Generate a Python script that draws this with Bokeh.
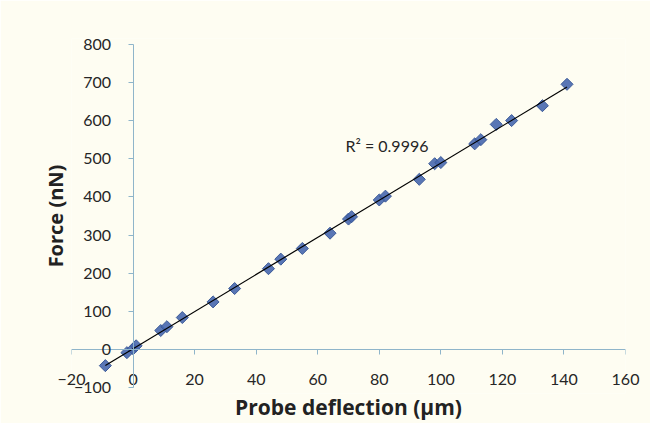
from bokeh.plotting import figure
from bokeh.models import Range1d, LinearAxis, SingleIntervalTicker, FixedTicker, Label
from bokeh.embed import file_html
from bokeh.resources import INLINE
import numpy as np
import math

# ---- data ----
deflection_um = [-9, -2, 0, 1, 9, 11, 16, 26, 33, 44, 48, 55, 64, 70, 71, 80, 82,
                 93, 98, 100, 111, 113, 118, 123, 133, 141]
force_nN = [-42, -8, 2, 10, 50, 60, 84, 125, 160, 212, 237, 265, 305, 342, 348, 392, 402,
            446, 487, 490, 539, 550, 590, 600, 639, 695]
r2_text = "R\u00b2 = 0.9996"
x_title = "Probe deflection (\u00b5m)"
y_title = "Force (nN)"

BG = "#FEFDF2"
AXIS = "#8FB5CA"
TXT = "#262626"
FONT = "Lato"
TFONT = "Open Sans"

p = figure(frame_width=554, frame_height=355, output_backend="svg", toolbar_location=None,
           x_range=Range1d(-20, 160), y_range=Range1d(-115, 815),
           min_border_left=71, min_border_right=25, min_border_top=38, min_border_bottom=28,
           background_fill_color=BG, border_fill_color=BG, outline_line_color=None)
p.grid.visible = False

# y axis crossing at x = 0
ya = p.yaxis[0]
ya.fixed_location = 0
ya.bounds = (-100, 800)
ya.ticker = SingleIntervalTicker(interval=100, num_minor_ticks=0)
ya.axis_line_color = AXIS
ya.major_tick_line_color = AXIS
ya.major_tick_out = 5
ya.major_tick_in = 0
ya.minor_tick_line_color = None
ya.major_label_standoff = 17
ya.major_label_text_font = FONT
ya.major_label_text_font_size = "16px"
ya.major_label_text_color = TXT

# y axis title at left edge
yt = LinearAxis(ticker=FixedTicker(ticks=[]))
yt.axis_line_color = None
yt.major_tick_line_color = None
yt.minor_tick_line_color = None
yt.major_tick_out = 0
yt.major_label_standoff = 0
yt.axis_label = y_title
yt.axis_label_text_font = TFONT
yt.axis_label_text_font_style = "bold"
yt.axis_label_text_font_size = "20px"
yt.axis_label_text_color = "#222222"
yt.axis_label_standoff = 3
p.add_layout(yt, "left")

# x axis line crossing at y = 0 (ticks only)
xa = p.xaxis[0]
xa.fixed_location = 0
xa.ticker = SingleIntervalTicker(interval=20, num_minor_ticks=0)
xa.axis_line_color = AXIS
xa.major_tick_line_color = AXIS
xa.major_tick_out = 5
xa.major_tick_in = 0
xa.minor_tick_line_color = None
xa.major_label_text_font_size = "0px"
xa.major_label_text_color = None

# x tick labels at bottom
xb = LinearAxis(ticker=SingleIntervalTicker(interval=20, num_minor_ticks=0))
xb.axis_line_color = None
xb.major_tick_line_color = None
xb.minor_tick_line_color = None
xb.major_tick_out = 0
xb.major_label_standoff = -20
xb.major_label_text_font = FONT
xb.major_label_text_font_size = "16px"
xb.major_label_text_color = TXT
xb.axis_label = x_title
xb.axis_label_text_font = TFONT
xb.axis_label_text_font_style = "bold"
xb.axis_label_text_font_size = "21px"
xb.axis_label_text_color = "#222222"
xb.axis_label_standoff = 5
p.add_layout(xb, "below")

# linear trendline fitted to the data
xs = np.array(deflection_um, dtype=float)
ys = np.array(force_nN, dtype=float)
m, b = np.polyfit(xs, ys, 1)
tx = [xs.min(), xs.max()]
ty = [m * tx[0] + b, m * tx[1] + b]

p.scatter(deflection_um, force_nN, marker="square", angle=math.pi / 4, size=8.5,
          fill_color="#4767AE", line_color="#3B5A98", fill_alpha=0.9)
p.line(tx, ty, line_color="black", line_width=1.2)

p.add_layout(Label(x=82.5, y=534, text=r2_text, text_align="center", text_baseline="middle",
                   text_font=FONT, text_font_size="16px", text_color=TXT))

open("out.html", "w").write(file_html(p, INLINE))
